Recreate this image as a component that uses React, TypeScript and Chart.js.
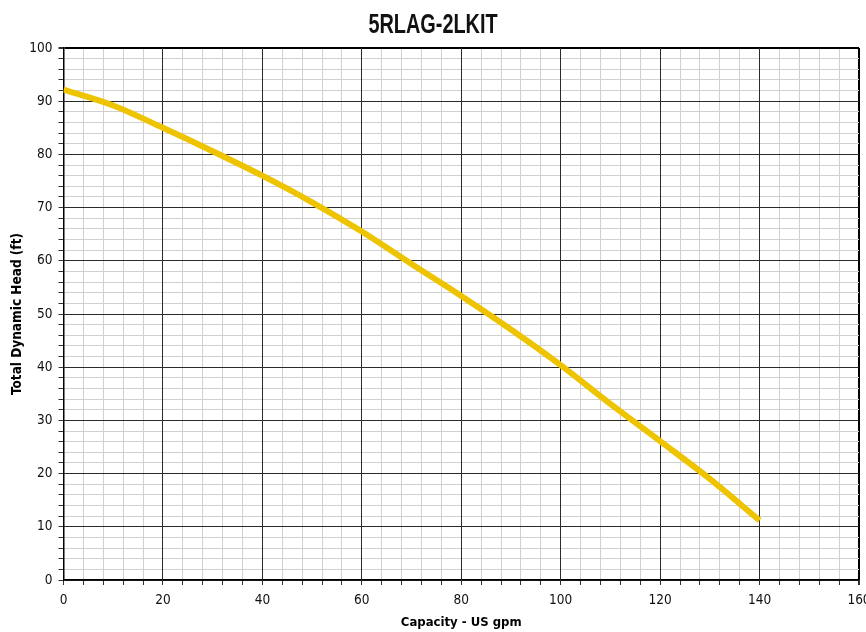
import React, { useEffect, useRef } from "react";
import { Chart, registerables } from "chart.js";

Chart.register(...registerables);

const TITLE = "5RLAG-2LKIT";
const X_LABEL = "Capacity - US gpm";
const Y_LABEL = "Total Dynamic Head (ft)";

const capacity = [0, 10, 20, 30, 40, 50, 60, 70, 80, 90, 100, 110, 120, 130, 140];
const head = [92.2, 89.2, 85, 80.6, 76, 71, 65.5, 59.4, 53.4, 47.1, 40.4, 33.1, 26.1, 19, 11.2];

const X_MIN = 0;
const X_MAX = 160;
const X_MAJOR = 20;
const X_MINOR = 4;
const Y_MIN = 0;
const Y_MAX = 100;
const Y_MAJOR = 10;
const Y_MINOR = 2;

const FONT = "'DejaVu Sans Condensed', 'Liberation Sans', sans-serif";
const MAJOR_COLOR = "#2a2a2a";
const MINOR_COLOR = "#d0d0d0";

// Same pixel alignment Chart.js uses for 1px grid lines.
const align = (p: number) => Math.round(p - 0.5) + 0.5;

// Draws the chart title in a condensed heavy style (horizontally compressed bold text).
const condensedTitle = {
  id: "condensedTitle",
  afterDraw(chart: any, _args: any, opts: any) {
    const ctx = chart.ctx as CanvasRenderingContext2D;
    ctx.save();
    ctx.font = "bold 28px 'Liberation Sans', Arial, sans-serif";
    ctx.fillStyle = "#111";
    ctx.textAlign = "center";
    ctx.textBaseline = "alphabetic";
    ctx.translate(chart.width / 2, 32.5);
    ctx.scale(0.71, 1);
    ctx.fillText(opts.text, 0, 0);
    ctx.restore();
  },
};

// Re-strokes major grid lines so minor lines never cross over them.
const majorGrid = {
  id: "majorGrid",
  beforeDatasetsDraw(chart: any) {
    const { ctx, chartArea, scales } = chart;
    ctx.save();
    ctx.strokeStyle = MAJOR_COLOR;
    ctx.lineWidth = 1;
    scales.x.ticks.forEach((t: any) => {
      if (t.value % X_MAJOR !== 0 || t.value === X_MIN || t.value === X_MAX) return;
      const px = align(scales.x.getPixelForValue(t.value));
      ctx.beginPath();
      ctx.moveTo(px, chartArea.top);
      ctx.lineTo(px, chartArea.bottom);
      ctx.stroke();
    });
    scales.y.ticks.forEach((t: any) => {
      if (t.value % Y_MAJOR !== 0 || t.value === Y_MIN || t.value === Y_MAX) return;
      const py = align(scales.y.getPixelForValue(t.value));
      ctx.beginPath();
      ctx.moveTo(chartArea.left, py);
      ctx.lineTo(chartArea.right, py);
      ctx.stroke();
    });
    ctx.restore();
  },
};

export default function App() {
  const ref = useRef<HTMLCanvasElement | null>(null);

  useEffect(() => {
    if (!ref.current) return;
    const points = capacity.map((x, i) => ({ x, y: head[i] }));

    const gridFor = (major: number, max: number) => ({
      color: (ctx: any) => {
        const v = ctx.tick ? ctx.tick.value : 0;
        if (v === max) return "#000";
        return v % major === 0 ? MAJOR_COLOR : MINOR_COLOR;
      },
      lineWidth: (ctx: any) => {
        const v = ctx.tick ? ctx.tick.value : 0;
        return v === max ? 2 : 1;
      },
      tickColor: "#333",
      tickLength: 5,
      drawTicks: true,
    });

    const chart = new Chart(ref.current, {
      type: "line",
      data: {
        datasets: [
          {
            data: points,
            borderColor: "#EEC300",
            borderWidth: 6,
            pointRadius: 0,
            fill: false,
            cubicInterpolationMode: "monotone",
          },
        ],
      },
      plugins: [majorGrid, condensedTitle],
      options: {
        animation: false,
        responsive: true,
        maintainAspectRatio: false,
        layout: { padding: { left: 0, right: 7, top: 48, bottom: 0 } },
        plugins: {
          legend: { display: false },
          tooltip: { enabled: false },
          title: { display: false },
          condensedTitle: { text: TITLE },
        },
        scales: {
          x: {
            type: "linear",
            min: X_MIN,
            max: X_MAX,
            afterFit: (s: any) => {
              s.height = 52;
              s.paddingRight = 0;
              s.paddingLeft = 0;
            },
            ticks: {
              stepSize: X_MINOR,
              autoSkip: false,
              maxRotation: 0,
              padding: 7,
              color: "#111",
              font: { family: FONT, size: 13.5 },
              callback: (v: any) => (Number(v) % X_MAJOR === 0 ? String(v) : ""),
            },
            grid: gridFor(X_MAJOR, X_MAX),
            border: { display: true, color: "#000", width: 1.5 },
            title: {
              display: true,
              text: X_LABEL,
              color: "#000",
              font: { family: FONT, size: 13, weight: "bold" },
              padding: { top: 2, bottom: 2 },
            },
          },
          y: {
            type: "linear",
            min: Y_MIN,
            max: Y_MAX,
            afterFit: (s: any) => {
              s.width = 63.5;
            },
            ticks: {
              stepSize: Y_MINOR,
              autoSkip: false,
              padding: 6,
              color: "#111",
              font: { family: FONT, size: 13.5 },
              callback: (v: any) => (Number(v) % Y_MAJOR === 0 ? String(v) : ""),
            },
            grid: gridFor(Y_MAJOR, Y_MAX),
            border: { display: true, color: "#000", width: 1.5 },
            title: {
              display: true,
              text: Y_LABEL,
              color: "#000",
              font: { family: FONT, size: 13.5, weight: "bold" },
              padding: { top: 9, bottom: 0 },
            },
          },
        },
      },
    } as any);

    return () => chart.destroy();
  }, []);

  return (
    <div
      style={{
        position: "fixed",
        left: 0,
        top: 0,
        width: 866,
        height: 632,
        background: "#fff",
      }}
    >
      <canvas ref={ref} />
    </div>
  );
}
